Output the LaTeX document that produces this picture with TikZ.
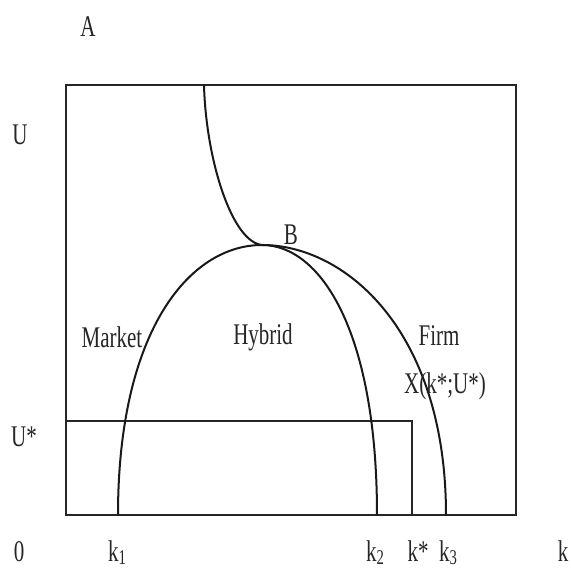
\documentclass[tikz,border=0pt]{standalone}
\usepackage{fontspec}
\usepackage{graphicx}
\setmainfont{Liberation Serif}
\newcommand{\nar}[1]{\scalebox{0.7}[1]{#1}}
\newcommand{\lowidx}[1]{\raisebox{-0.25ex}{\fontsize{21}{22}\selectfont #1}}
\begin{document}
\begin{tikzpicture}[x=1pt,y=-1pt,
  lbl/.style={inner sep=0pt, font=\fontsize{30}{32}\selectfont, text=black!85},
  frame/.style={line width=2.4pt, black!85},
  curve/.style={line width=2pt, black!90}]
\useasboundingbox (0,0) rectangle (571,570);
% frame
\coordinate (TL) at (66,85);
\coordinate (BR) at (516,515);
\draw[frame] (TL) rectangle (BR);
% U* line and k* vertical
\coordinate (Us) at (66,421);
\coordinate (X) at (412,421);
\coordinate (ks) at (412,515);
\draw[frame, line width=2pt] (Us) -- (X) -- (ks);
% curves
\coordinate (B) at (262,245);
\coordinate (k1) at (118,515);
\coordinate (k2) at (377,515);
\coordinate (k3) at (446,515);
\coordinate (top) at (204,85);
\draw[curve] (k1) .. controls (118,330) and (190,245) .. (B)
                  .. controls (320,245) and (377,330) .. (k2);
\draw[curve] (top) .. controls (206,160) and (232,242) .. (B)
                   .. controls (345,245) and (446,330) .. (k3);
% labels
\node[lbl] (lA) at (88,27) {\nar{A}};
\node[lbl] (lU) at (20,135) {\nar{U}};
\node[lbl] (lUs) at (24,437) {\nar{U*}};
\node[lbl] (lB) at (291,235) {\nar{B}};
\node[lbl] (lM) at (112,337) {\nar{Market}};
\node[lbl] (lH) at (263,337) {\nar{Hybrid}};
\node[lbl] (lF) at (439,336) {\nar{Firm}};
\node[lbl] (lX) at (445,386) {\nar{X(k*;U*)}};
\node[lbl, anchor=base] (l0) at (19,561) {\nar{0}};
\node[lbl, anchor=base] (lk1) at (117,561) {\nar{k\lowidx{1}}};
\node[lbl, anchor=base] (lk2) at (375,561) {\nar{k\lowidx{2}}};
\node[lbl, anchor=base] (lks) at (418,561) {\nar{k*}};
\node[lbl, anchor=base] (lk3) at (448,561) {\nar{k\lowidx{3}}};
\node[lbl, anchor=base] (lk) at (563,561) {\nar{k}};
\end{tikzpicture}
\end{document}
